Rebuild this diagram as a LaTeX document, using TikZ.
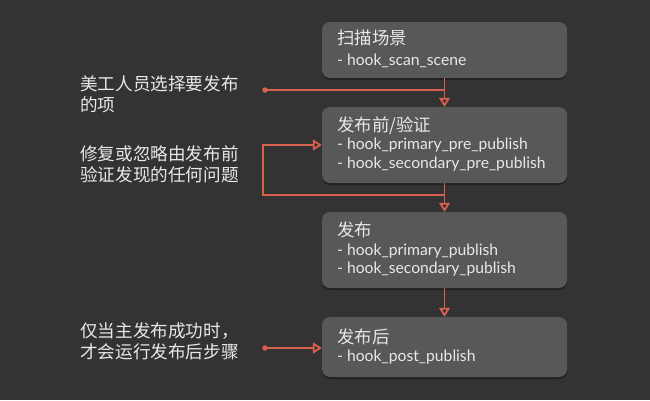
\documentclass[tikz,border=0pt]{standalone}
\usepackage{fontspec}
\setmainfont{Lato}
\newfontfamily\cjk{Noto Sans CJK SC}
\usetikzlibrary{arrows.meta,shadows}
\definecolor{bgc}{HTML}{333333}
\definecolor{boxc}{HTML}{585858}
\definecolor{linec}{HTML}{DA604E}
\definecolor{txtc}{HTML}{E8E8E8}
\tikzset{
  stepbox/.style={draw=none, fill=boxc, rounded corners=8pt, minimum width=245pt, inner sep=0pt,
    drop shadow={shadow xshift=0pt, shadow yshift=-2pt, opacity=0.35, fill=black}},
  ttl/.style={anchor=mid west, inner sep=0pt, text=txtc, font=\cjk\fontsize{17.4}{20}\selectfont},
  hk/.style={anchor=mid west, inner sep=0pt, text=txtc, font=\fontsize{15.7}{18.5}\selectfont},
  note/.style={anchor=west, inner sep=0pt, text=txtc, font=\cjk\fontsize{17.6}{21}\selectfont, align=left},
  conn/.style={draw=linec, line width=1.8pt},
  arr/.style={conn, -{Triangle[open, width=11pt, length=9pt, line width=1.8pt]}},
  dotc/.style={circle, fill=linec, inner sep=0pt, minimum size=5.5pt}
}
\begin{document}
\begin{tikzpicture}[x=1pt,y=-1pt]
\fill[bgc] (0,0) rectangle (650,400);
\useasboundingbox (0,0) rectangle (650,400);

% boxes
\node[stepbox, minimum height=56pt] (b1) at (444.5,50) {};
\node[stepbox, minimum height=76pt] (b2) at (444.5,145) {};
\node[stepbox, minimum height=76pt] (b3) at (444.5,250) {};
\node[stepbox, minimum height=60pt] (b4) at (444.5,347) {};

% box texts
\node[ttl] (t1) at (337,42) {扫描场景};
\node[hk] (h1) at (337,62.5) {- hook\_scan\_scene};
\node[ttl] (t2) at (337,128.5) {发布前/验证};
\node[hk] (h2a) at (337,147) {- hook\_primary\_pre\_publish};
\node[hk] (h2b) at (337,165.5) {- hook\_secondary\_pre\_publish};
\node[ttl] (t3) at (337,233.5) {发布};
\node[hk] (h3a) at (337,252.5) {- hook\_primary\_publish};
\node[hk] (h3b) at (337,271) {- hook\_secondary\_publish};
\node[ttl] (t4) at (337,341) {发布后};
\node[hk] (h4) at (337,358.5) {- hook\_post\_publish};

% notes
\node[note] (n1) at (80,94.5) {美工人员选择要发布\\的项};
\node[note] (n2) at (80,164) {修复或忽略由发布前\\验证发现的任何问题};
\node[note] (n3) at (80,341) {仅当主发布成功时，\\才会运行发布后步骤};

% connectors
\node[dotc] (d1) at (265,90) {};
\node[dotc] (d4) at (265,348) {};
\coordinate (l1) at (444.5,195);
\coordinate (l2) at (263,195);
\coordinate (l3) at (263,145);

\draw[arr] (b1.south) -- (b2.north);
\draw[conn] (d1.center) -- (d1 -| b1.south);
\draw[arr] (b2.south) -- (b3.north);
\draw[arr] (l1) -- (l2) -- (l3) -- (l3 -| b2.west);
\draw[arr] (b3.south) -- (b4.north);
\draw[arr] (d4.center) -- (d4 -| b4.west);
\end{tikzpicture}
\end{document}
